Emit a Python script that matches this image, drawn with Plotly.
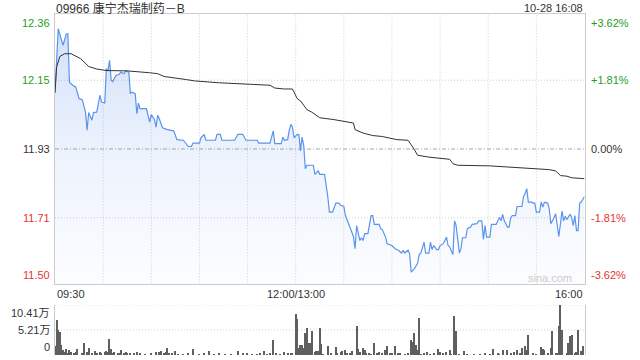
import plotly.graph_objects as go

# ---------------- data ----------------
title_text = "09966 康宁杰瑞制药－B"
stamp_text = "10-28 16:08"
prev_close = 11.93
price_ticks = [12.36, 12.15, 11.93, 11.71, 11.50]
pct_labels = ["+3.62%", "+1.81%", "0.00%", "-1.81%", "-3.62%"]
vol_ticks = [10.41, 5.21, 0]
vol_tick_labels = ["10.41万", "5.21万", "0"]
time_labels = ["09:30", "12:00/13:00", "16:00"]
time_label_minutes = [0, 150, 330]       # trading minutes since 09:30 (lunch removed)
grid_minutes = [30, 60, 90, 120, 150, 180, 210, 240, 270, 300]

price_minute = [0, 2, 5, 7, 8, 9, 11, 13, 15, 17, 19, 20, 21, 23, 24, 26, 28, 29, 31, 32,
                33, 34, 35, 36, 38, 40, 41, 43, 44, 46, 47, 48, 50, 51, 52, 53, 57, 59, 60, 62,
                63, 64, 65, 67, 70, 74, 76, 80, 83, 85, 86, 90, 91, 93, 94, 100, 101, 103, 104, 112,
                114, 117, 119, 126, 127, 134, 136, 137, 141, 142, 143, 145, 146, 147, 148, 149, 151, 152, 153, 154,
                155, 156, 157, 161, 162, 164, 165, 168, 170, 171, 173, 175, 177, 178, 180, 181, 183, 185, 186, 187,
                188, 190, 191, 192, 193, 195, 197, 198, 199, 202, 203, 204, 206, 207, 210, 212, 214, 216, 217, 218,
                220, 221, 222, 224, 225, 226, 227, 228, 230, 231, 233, 234, 235, 236, 238, 239, 240, 242, 244, 245,
                246, 248, 249, 250, 252, 253, 254, 256, 257, 259, 260, 263, 264, 266, 267, 268, 269, 271, 272, 275,
                277, 278, 279, 280, 282, 283, 284, 285, 287, 288, 291, 292, 293, 294, 295, 297, 298, 299, 300, 302,
                303, 304, 305, 307, 308, 309, 311, 312, 314, 316, 317, 318, 319, 321, 322, 323, 324, 325, 326, 327,
                328, 330]
price_value = [12.11, 12.315, 12.262, 12.297, 12.299, 12.144, 12.134, 12.128, 12.091, 12.088, 12.048, 11.99, 12.047, 12.022, 12.047, 12.048, 12.102, 12.08, 12.077, 12.187,
               12.181, 12.214, 12.15, 12.146, 12.165, 12.169, 12.176, 12.171, 12.18, 12.176, 12.107, 12.112, 12.107, 12.043, 12.077, 12.059, 12.059, 12.016, 12.04, 12.024,
               12.0, 12.038, 12.027, 11.998, 11.992, 11.988, 11.96, 11.958, 11.938, 11.938, 11.949, 11.949, 11.966, 11.977, 11.958, 11.958, 11.977, 11.977, 11.958, 11.958,
               11.977, 11.977, 11.958, 11.958, 11.949, 11.949, 11.988, 11.947, 11.947, 11.968, 11.958, 11.96, 11.99, 12.009, 12.0, 11.966, 11.977, 11.976, 11.924, 11.968,
               11.942, 11.867, 11.878, 11.878, 11.849, 11.86, 11.849, 11.849, 11.778, 11.728, 11.728, 11.757, 11.757, 11.75, 11.746, 11.717, 11.691, 11.659, 11.65, 11.611,
               11.685, 11.637, 11.646, 11.637, 11.659, 11.659, 11.717, 11.717, 11.689, 11.689, 11.675, 11.672, 11.648, 11.627, 11.621, 11.611, 11.606, 11.597, 11.606, 11.597,
               11.606, 11.595, 11.536, 11.547, 11.557, 11.565, 11.593, 11.597, 11.632, 11.597, 11.597, 11.632, 11.608, 11.621, 11.608, 11.608, 11.621, 11.627, 11.648, 11.621,
               11.616, 11.592, 11.7, 11.685, 11.597, 11.611, 11.646, 11.646, 11.675, 11.68, 11.689, 11.691, 11.7, 11.7, 11.641, 11.685, 11.648, 11.648, 11.689, 11.689,
               11.712, 11.7, 11.721, 11.7, 11.68, 11.68, 11.71, 11.717, 11.717, 11.746, 11.746, 11.778, 11.787, 11.803, 11.76, 11.76, 11.757, 11.757, 11.728, 11.728,
               11.76, 11.744, 11.76, 11.757, 11.739, 11.691, 11.71, 11.723, 11.65, 11.731, 11.7, 11.715, 11.704, 11.721, 11.71, 11.685, 11.717, 11.669, 11.669, 11.757,
               11.76, 11.778]

avg_minute = [0, 1, 3, 6, 10, 16, 21, 26, 32, 45, 59, 64, 68, 76, 82, 87, 102, 122, 134, 137,
              143, 148, 151, 153, 155, 157, 160, 163, 165, 174, 186, 187, 192, 198, 204, 213, 220, 223, 226, 233,
              246, 248, 251, 271, 287, 296, 308, 312, 315, 319, 322, 330]
avg_value = [12.11, 12.192, 12.226, 12.235, 12.235, 12.219, 12.194, 12.186, 12.181, 12.18, 12.174, 12.171, 12.162, 12.155, 12.152, 12.148, 12.142, 12.137, 12.134, 12.125,
             12.122, 12.122, 12.091, 12.084, 12.07, 12.056, 12.048, 12.038, 12.03, 12.024, 12.013, 11.992, 11.981, 11.973, 11.97, 11.96, 11.958, 11.936, 11.91, 11.904,
             11.897, 11.883, 11.878, 11.876, 11.87, 11.867, 11.864, 11.86, 11.845, 11.843, 11.838, 11.835]

vol_minute = [0, 1, 2, 3, 4, 5, 6, 7, 8, 9, 10, 12, 13, 14, 17, 18, 20, 21, 23, 25,
              26, 28, 29, 31, 32, 33, 34, 35, 36, 37, 39, 40, 41, 43, 44, 45, 47, 49, 51, 53,
              56, 60, 63, 65, 66, 68, 69, 70, 71, 73, 75, 77, 80, 83, 86, 90, 93, 96, 99, 102,
              106, 110, 114, 117, 120, 123, 126, 128, 130, 132, 134, 136, 138, 140, 143, 145, 147, 148, 150, 151,
              152, 153, 154, 155, 156, 157, 158, 159, 160, 162, 163, 164, 165, 166, 167, 170, 172, 175, 176, 178,
              179, 181, 182, 184, 185, 188, 189, 190, 192, 193, 194, 196, 197, 199, 201, 202, 204, 206, 207, 209,
              210, 212, 214, 215, 218, 220, 222, 223, 224, 225, 226, 227, 228, 230, 232, 234, 236, 239, 240, 242,
              244, 246, 247, 249, 250, 252, 255, 257, 261, 265, 268, 271, 273, 276, 277, 279, 282, 284, 286, 288,
              290, 291, 293, 294, 295, 298, 300, 303, 304, 305, 307, 309, 310, 312, 313, 314, 315, 316, 319, 320,
              321, 322, 324, 325, 326, 328, 329]
vol_wan = [1.87, 7.3, 5.2, 4.86, 2.1, 1.0, 0.7, 1.2, 0.5, 1.0, 0.7, 0.5, 0.7, 1.2, 0.5, 2.6, 0.7, 1.4, 0.5, 0.9,
           0.35, 0.7, 0.5, 0.7, 0.9, 0.7, 3.3, 1.2, 0.35, 0.7, 0.5, 0.35, 1.0, 0.5, 0.7, 0.5, 0.35, 0.5, 0.6, 0.35,
           0.2, 0.35, 0.55, 0.7, 0.9, 0.35, 0.7, 1.4, 0.35, 0.35, 0.8, 0.2, 0.2, 0.35, 1.25, 0.2, 0.35, 0.8, 0.2, 0.35,
           0.2, 0.2, 0.8, 0.35, 0.35, 0.2, 0.2, 0.35, 0.9, 0.2, 0.35, 3.1, 0.35, 0.2, 0.55, 0.35, 0.5, 0.35, 8.5, 7.6,
           1.4, 2.1, 2.1, 1.4, 4.5, 5.55, 2.4, 2.6, 5.1, 0.7, 0.9, 0.9, 5.55, 2.3, 0.2, 1.9, 0.35, 1.6, 0.35, 0.7,
           0.9, 1.0, 0.35, 0.5, 0.9, 6.0, 1.2, 0.7, 1.4, 1.0, 0.5, 0.35, 0.2, 2.6, 0.35, 0.7, 0.35, 1.0, 1.9, 0.35,
           0.35, 1.9, 0.5, 0.5, 0.2, 0.35, 3.1, 2.7, 4.65, 2.1, 1.0, 7.7, 0.2, 0.35, 0.55, 0.2, 0.5, 1.2, 0.7, 0.35,
           0.55, 1.0, 0.2, 8.1, 5.1, 0.2, 0.8, 0.2, 0.2, 0.2, 0.35, 0.2, 1.2, 0.35, 0.2, 1.0, 1.0, 0.35, 0.7, 1.0,
           0.35, 1.4, 1.9, 1.0, 4.2, 0.35, 0.2, 1.6, 1.2, 1.0, 0.35, 1.4, 4.9, 0.35, 0.35, 6.0, 10.41, 5.2, 0.35, 2.6,
           4.0, 4.2, 0.35, 0.7, 5.2, 0.9, 1.9]

# ---------------- style ----------------
W, H = 640, 360
FONT = "Liberation Sans, Arial, Noto Sans CJK SC, sans-serif"
UP, FLAT, DOWN = "#1f9e1f", "#333333", "#e5352d"
GRID = "#cfcfcf"
FRAME = "#cccccc"

px_left, px_right = 55, 584.5
py_top, py_bot = 14, 284
vy_top, vy_bot = 305, 355

def fx(px):
    return px / W

def fy(py):
    return 1 - py / H

fig = go.Figure()

# price line with gradient fill
fig.add_trace(go.Scatter(
    x=price_minute, y=price_value, mode="lines",
    line=dict(color="#5b93ec", width=1.2),
    fill="tozeroy",
    fillgradient=dict(type="vertical", start=price_ticks[-1], stop=price_ticks[0],
                      colorscale=[[0, "rgba(70,130,230,0.02)"], [0.5, "rgba(70,130,230,0.10)"],
                                  [1, "rgba(70,130,230,0.26)"]]),
    hoverinfo="skip", xaxis="x", yaxis="y"))

# average price line
fig.add_trace(go.Scatter(
    x=avg_minute, y=avg_value, mode="lines",
    line=dict(color="#333333", width=1),
    hoverinfo="skip", xaxis="x", yaxis="y"))

# volume bars
fig.add_trace(go.Bar(
    x=vol_minute, y=vol_wan, width=0.7,
    marker=dict(color="#5f5f5f", line=dict(width=0)),
    hoverinfo="skip", xaxis="x2", yaxis="y2"))

shapes = []
# vertical grid in price panel
for m in grid_minutes:
    shapes.append(dict(type="line", xref="x", yref="y", x0=m, x1=m,
                       y0=price_ticks[-1], y1=price_ticks[0], layer="below",
                       line=dict(color=GRID, width=1, dash="1px,2px")))
# horizontal grid in price panel
for p in price_ticks[1:-1]:
    if p == prev_close:
        ln = dict(color="#a8a8a8", width=1, dash="4px,2px,1px,2px")
    else:
        ln = dict(color=GRID, width=1, dash="1px,2px")
    shapes.append(dict(type="line", xref="x", yref="y", x0=0, x1=330, y0=p, y1=p,
                       layer="below", line=ln))
# horizontal grid in volume panel
for v in vol_ticks[:-1]:
    shapes.append(dict(type="line", xref="x2", yref="y2", x0=0, x1=330, y0=v, y1=v,
                       layer="below", line=dict(color=GRID, width=1, dash="1px,2px")))

ann = []
for p, lab in zip(price_ticks, pct_labels):
    col = UP if p > prev_close else (DOWN if p < prev_close else FLAT)
    anchor = "top" if p == price_ticks[0] else ("bottom" if p == price_ticks[-1] else "middle")
    ann.append(dict(xref="paper", yref="y", x=fx(52), y=p, xanchor="right", yanchor=anchor,
                    text=f"{p:.2f}", showarrow=False, font=dict(size=11, color=col, family=FONT)))
    ann.append(dict(xref="paper", yref="y", x=fx(589), y=p, xanchor="left", yanchor=anchor,
                    text=lab, showarrow=False, font=dict(size=11, color=col, family=FONT)))
for v, lab in zip(vol_ticks, vol_tick_labels):
    anchor = "top" if v == vol_ticks[0] else ("bottom" if v == vol_ticks[-1] else "middle")
    ann.append(dict(xref="paper", yref="y2", x=fx(52), y=v, xanchor="right", yanchor=anchor,
                    text=lab, showarrow=False, font=dict(size=11, color="#333333", family=FONT)))
for m, lab, xa in zip(time_label_minutes, time_labels, ["left", "center", "right"]):
    ann.append(dict(xref="x", yref="paper", x=m, y=fy(py_bot + 2), xanchor=xa, yanchor="top",
                    text=lab, showarrow=False, font=dict(size=11, color="#333333", family=FONT)))
ann.append(dict(xref="paper", yref="paper", x=fx(54), y=fy(-1), xanchor="left", yanchor="top",
                text=title_text, showarrow=False, font=dict(size=12, color="#333333", family=FONT)))
ann.append(dict(xref="paper", yref="paper", x=fx(585), y=fy(0), xanchor="right", yanchor="top",
                text=stamp_text, showarrow=False, font=dict(size=11, color="#333333", family=FONT)))
ann.append(dict(xref="paper", yref="paper", x=fx(574), y=fy(278), xanchor="right", yanchor="middle",
                text="sina.com", showarrow=False, font=dict(size=11, color="#cccccc", family=FONT)))

axis_common = dict(showticklabels=False, showgrid=False, zeroline=False, ticks="",
                   fixedrange=True)
fig.update_layout(
    width=W, height=H, margin=dict(l=0, r=0, t=0, b=0),
    paper_bgcolor="white", plot_bgcolor="white", showlegend=False,
    hovermode=False, bargap=0,
    xaxis=dict(domain=[fx(px_left), fx(px_right)], range=[0, 330], anchor="y",
               showline=True, mirror=True, linecolor=FRAME, linewidth=1, **axis_common),
    yaxis=dict(domain=[fy(py_bot), fy(py_top)], range=[price_ticks[-1] - 0.002, price_ticks[0] + 0.002],
               anchor="x", showline=True, mirror=True, linecolor=FRAME, linewidth=1, **axis_common),
    xaxis2=dict(domain=[fx(px_left), fx(px_right)], range=[0, 330], anchor="y2",
                showline=False, **axis_common),
    yaxis2=dict(domain=[fy(vy_bot), fy(vy_top)], range=[0, vol_ticks[0]], anchor="x2",
                showline=True, mirror=True, linecolor=FRAME, linewidth=1, **axis_common),
    shapes=shapes, annotations=ann,
)

fig.write_html("out.html")
